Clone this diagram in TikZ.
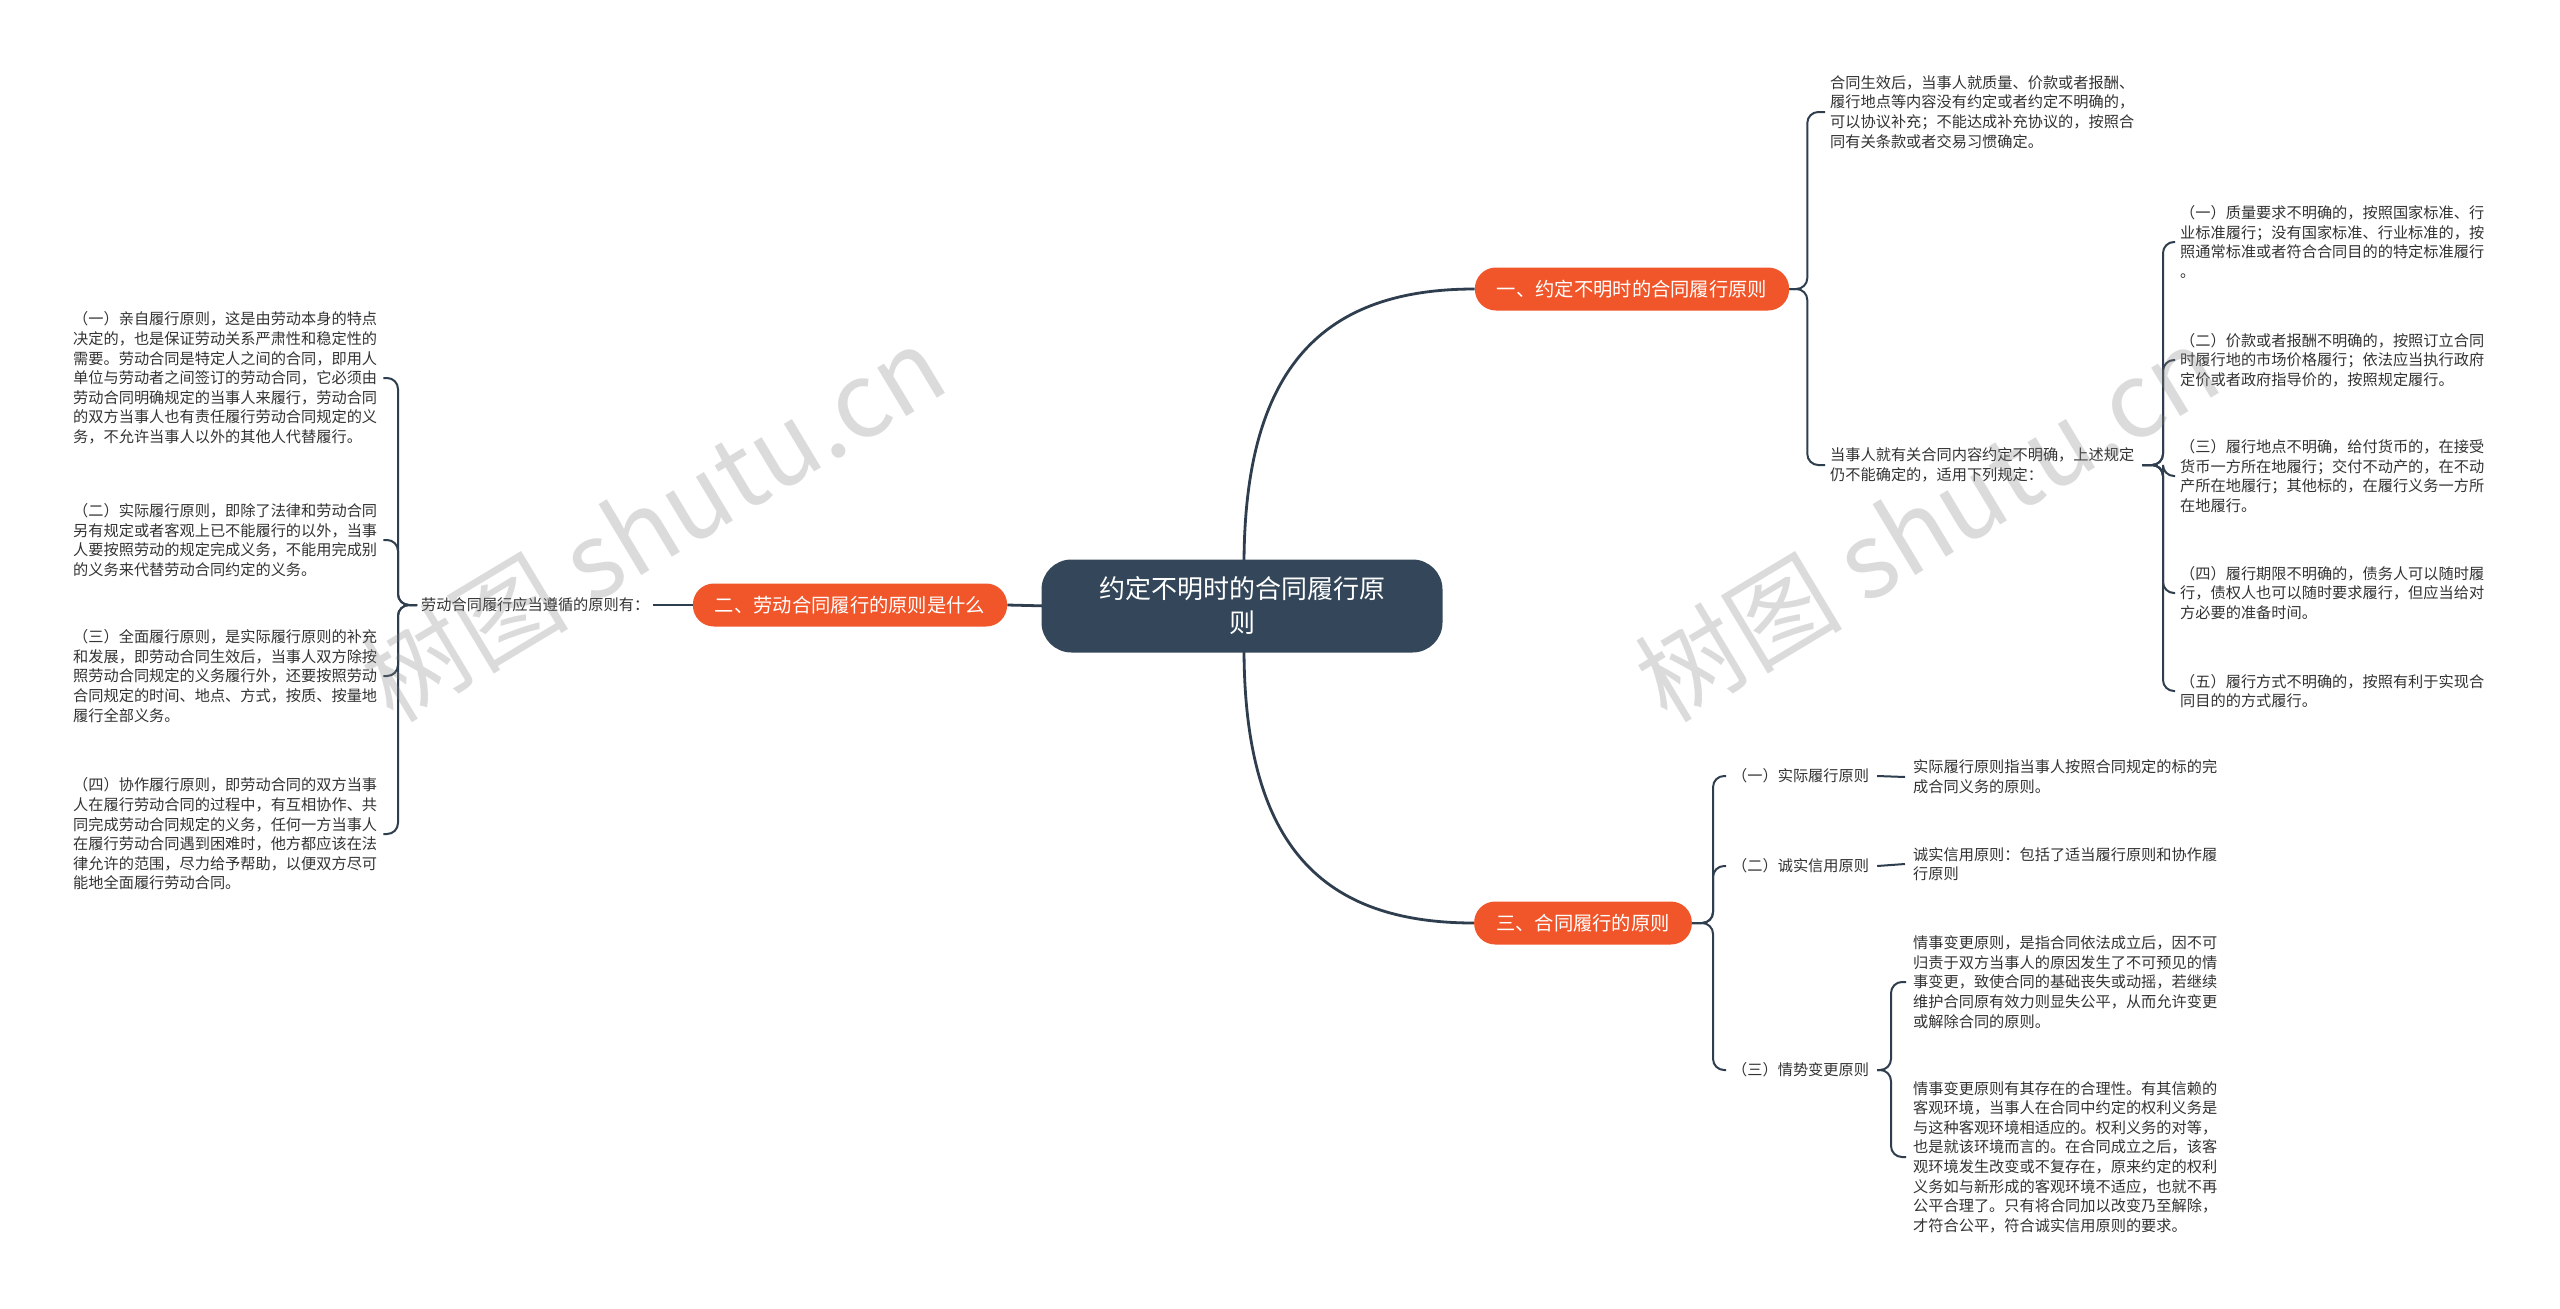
\documentclass[tikz,border=0pt]{standalone}
\usepackage{fontspec}
\setmainfont{Noto Sans CJK SC}
\newfontfamily\cjk{Noto Sans CJK SC}
\definecolor{hubfill}{HTML}{34475A}
\definecolor{brfill}{HTML}{F0562A}
\definecolor{linec}{HTML}{2F3E4E}
\definecolor{txtc}{HTML}{333333}
\tikzset{
  hub/.style={fill=hubfill, text=white, rounded corners=30pt, minimum width=401pt, minimum height=93pt, align=center, font=\cjk\fontsize{26}{34}\selectfont, inner sep=0pt},
  branch/.style={fill=brfill, text=white, rounded corners=21pt, minimum height=43pt, inner xsep=22pt, inner ysep=0pt, font=\cjk\fontsize{19.3}{23}\selectfont},
  leaf/.style={text=txtc, align=left, inner sep=0pt, font=\cjk\fontsize{15.2}{19.6}\selectfont},
  mainline/.style={draw=linec, line width=2.8pt},
  subline/.style={draw=linec, line width=2pt, rounded corners=11pt},
  wmark/.style={text=gray, opacity=0.28, font=\cjk\fontsize{104}{110}\selectfont, rotate=31}
}
\begin{document}
\begin{tikzpicture}[x=1pt,y=-1pt]
\useasboundingbox (0,0) rectangle (2560,1309);
\fill[white] (0,0) rectangle (2560,1309);

% nodes
\node[branch] (b1) at (1632,289) {一、约定不明时的合同履行原则};
\node[branch] (b2) at (850,605) {二、劳动合同履行的原则是什么};
\node[branch] (b3) at (1583,923) {三、合同履行的原则};

% main connectors (drawn before hub so hub covers their ends)
\coordinate (cN) at (1244,565);
\coordinate (cS) at (1244,648);
\coordinate (cW) at (1048,606);
\draw[mainline] (cN) .. controls +(0,-200) and +(-150,0) .. (b1.west);
\draw[mainline] (cS) .. controls +(0,200) and +(-150,0) .. (b3.west);
\draw[mainline] (cW) -- (b2.east);

\node[hub] (c) at (1242,606) {约定不明时的合同履行原\\则};

% branch 1 leaves
\node[leaf, anchor=west] (tA) at (1830,112) {合同生效后，当事人就质量、价款或者报酬、\\履行地点等内容没有约定或者约定不明确的，\\可以协议补充；不能达成补充协议的，按照合\\同有关条款或者交易习惯确定。};
\node[leaf, anchor=west] (tB) at (1830,465) {当事人就有关合同内容约定不明确，上述规定\\仍不能确定的，适用下列规定：};
\node[leaf, anchor=west] (i1) at (2180,242) {（一）质量要求不明确的，按照国家标准、行\\业标准履行；没有国家标准、行业标准的，按\\照通常标准或者符合合同目的的特定标准履行\\。};
\node[leaf, anchor=west] (i2) at (2180,360) {（二）价款或者报酬不明确的，按照订立合同\\时履行地的市场价格履行；依法应当执行政府\\定价或者政府指导价的，按照规定履行。};
\node[leaf, anchor=west] (i3) at (2180,476) {（三）履行地点不明确，给付货币的，在接受\\货币一方所在地履行；交付不动产的，在不动\\产所在地履行；其他标的，在履行义务一方所\\在地履行。};
\node[leaf, anchor=west] (i4) at (2180,593) {（四）履行期限不明确的，债务人可以随时履\\行，债权人也可以随时要求履行，但应当给对\\方必要的准备时间。};
\node[leaf, anchor=west] (i5) at (2180,691) {（五）履行方式不明确的，按照有利于实现合\\同目的的方式履行。};

\foreach \t in {tA,tB}
  \draw[subline] (b1.east) -- ++(18,0) |- ([xshift=-5pt]\t.west);
\foreach \t in {i1,i2,i3,i4,i5}
  \draw[subline] ([xshift=8pt]tB.east) -- (2163,465) |- ([xshift=-5pt]\t.west);

% branch 2 leaves
\node[leaf, anchor=west] (lab2) at (421,605) {劳动合同履行应当遵循的原则有：};
\draw[subline] (b2.west) -- ([xshift=4pt]lab2.east);
\node[leaf, anchor=west] (j1) at (73,378) {（一）亲自履行原则，这是由劳动本身的特点\\决定的，也是保证劳动关系严肃性和稳定性的\\需要。劳动合同是特定人之间的合同，即用人\\单位与劳动者之间签订的劳动合同，它必须由\\劳动合同明确规定的当事人来履行，劳动合同\\的双方当事人也有责任履行劳动合同规定的义\\务，不允许当事人以外的其他人代替履行。};
\node[leaf, anchor=west] (j2) at (73,540) {（二）实际履行原则，即除了法律和劳动合同\\另有规定或者客观上已不能履行的以外，当事\\人要按照劳动的规定完成义务，不能用完成别\\的义务来代替劳动合同约定的义务。};
\node[leaf, anchor=west] (j3) at (73,676) {（三）全面履行原则，是实际履行原则的补充\\和发展，即劳动合同生效后，当事人双方除按\\照劳动合同规定的义务履行外，还要按照劳动\\合同规定的时间、地点、方式，按质、按量地\\履行全部义务。};
\node[leaf, anchor=west] (j4) at (73,834) {（四）协作履行原则，即劳动合同的双方当事\\人在履行劳动合同的过程中，有互相协作、共\\同完成劳动合同规定的义务，任何一方当事人\\在履行劳动合同遇到困难时，他方都应该在法\\律允许的范围，尽力给予帮助，以便双方尽可\\能地全面履行劳动合同。};
\foreach \t in {j1,j2,j3,j4}
  \draw[subline] ([xshift=-4pt]lab2.west) -- (398,605) |- ([xshift=6pt]\t.east);

% branch 3 leaves
\node[leaf, anchor=west] (k1) at (1732,776) {（一）实际履行原则};
\node[leaf, anchor=west] (k2) at (1732,866) {（二）诚实信用原则};
\node[leaf, anchor=west] (k3) at (1732,1070) {（三）情势变更原则};
\foreach \t in {k1,k2,k3}
  \draw[subline] (b3.east) -- ++(21,0) |- ([xshift=-6pt]\t.west);

\node[leaf, anchor=west] (m1) at (1913,777) {实际履行原则指当事人按照合同规定的标的完\\成合同义务的原则。};
\node[leaf, anchor=west] (m2) at (1913,864) {诚实信用原则：包括了适当履行原则和协作履\\行原则};
\node[leaf, anchor=west] (m3) at (1913,982) {情事变更原则，是指合同依法成立后，因不可\\归责于双方当事人的原因发生了不可预见的情\\事变更，致使合同的基础丧失或动摇，若继续\\维护合同原有效力则显失公平，从而允许变更\\或解除合同的原则。};
\node[leaf, anchor=west] (m4) at (1913,1157) {情事变更原则有其存在的合理性。有其信赖的\\客观环境，当事人在合同中约定的权利义务是\\与这种客观环境相适应的。权利义务的对等，\\也是就该环境而言的。在合同成立之后，该客\\观环境发生改变或不复存在，原来约定的权利\\义务如与新形成的客观环境不适应，也就不再\\公平合理了。只有将合同加以改变乃至解除，\\才符合公平，符合诚实信用原则的要求。};

\draw[subline] ([xshift=8pt]k1.east) -- ([xshift=-8pt]m1.west);
\draw[subline] ([xshift=8pt]k2.east) -- ([xshift=-8pt]m2.west);
\foreach \t in {m3,m4}
  \draw[subline] ([xshift=8pt]k3.east) -- (1891,1070) |- ([xshift=-7pt]\t.west);

% watermarks
\node[wmark] (w1) at (653,523) {树图 shutu.cn};
\node[wmark] (w2) at (1927,523) {树图 shutu.cn};
\end{tikzpicture}
\end{document}
